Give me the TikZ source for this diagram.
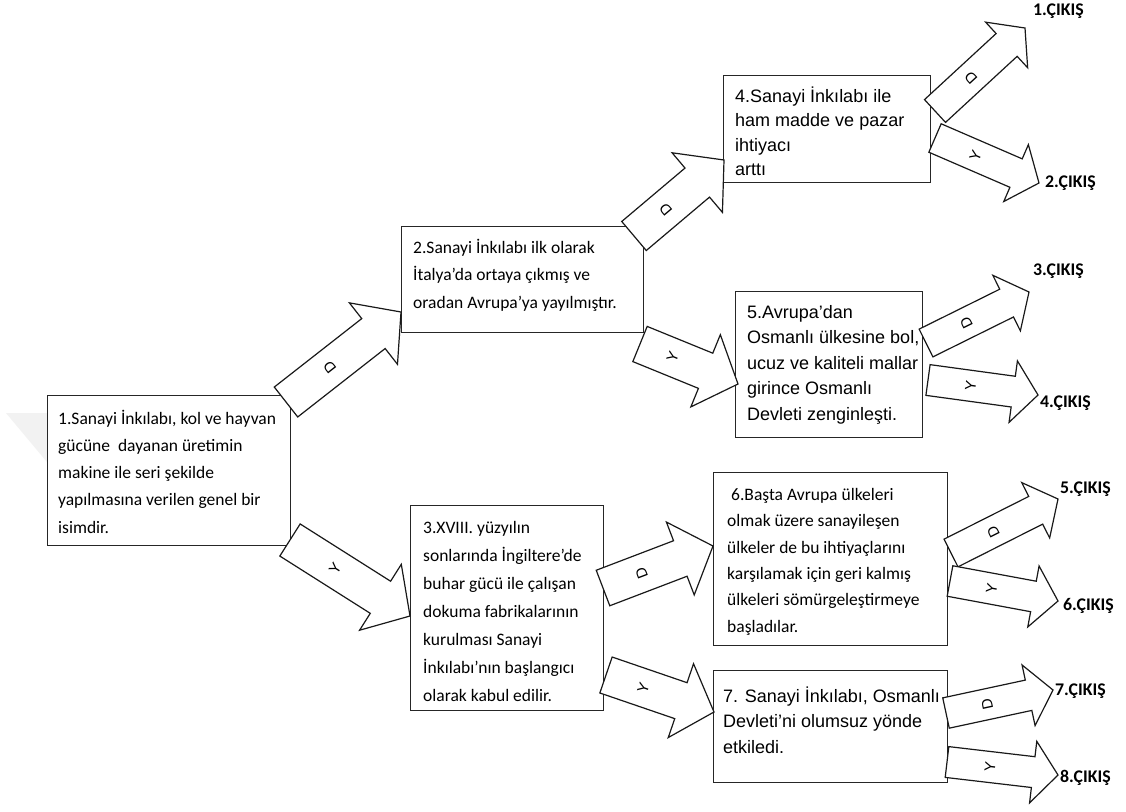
\documentclass[tikz,border=0pt]{standalone}
\usepackage{fontspec}
\setmainfont{Carlito}
\newfontfamily\calf{Carlito}
\newfontfamily\arialf{Liberation Sans}
\usetikzlibrary{calc}

\tikzset{
  frame/.style={draw=black!85, line width=0.9pt, fill=white, inner sep=0pt, anchor=north west},
  bodytext/.style={inner sep=0pt, anchor=north west, align=left, text=black},
  calibri/.style={bodytext, font=\calf\fontsize{17.5}{27.2}\selectfont},
  arial/.style={bodytext, font=\arialf\fontsize{18}{25.5}\selectfont},
  exitlabel/.style={inner sep=0pt, anchor=base west, font=\calf\bfseries\fontsize{17.8}{20}\selectfont},
  blockshape/.style={draw=black!90, line width=1.2pt, fill=white, line join=miter},
  arrowtag/.style={font=\arialf\fontsize{15}{15}\selectfont, inner sep=0pt},
}

% block arrow: tail centre, tip, half shaft width, half head width, head length, tag
\newcommand\blockarrow[6]{%
  \coordinate (#2-base) at ($(#2)!#5!(#1)$);
  \draw[blockshape] ($(#1)!#3!90:(#2)$) -- ($(#2-base)!#3!90:(#2)$)
    -- ($(#2-base)!#4!90:(#2)$) -- (#2) -- ($(#2-base)!#4!-90:(#2)$)
    -- ($(#2-base)!#3!-90:(#2)$) -- ($(#1)!#3!-90:(#2)$) -- cycle;
  \path (#1) -- (#2-base) node[arrowtag, midway, sloped, rotate=90] (#2-tag) {#6};
}
\newcommand\bigarrow[3]{\blockarrow{#1}{#2}{19pt}{39pt}{35pt}{#3}}
\newcommand\exitarrow[3]{\blockarrow{#1}{#2}{15.5pt}{31pt}{25pt}{#3}}

\begin{document}
\begin{tikzpicture}[x=1pt, y=-1pt]
\useasboundingbox (0,0) rectangle (1126,811);
\fill[white] (0,0) rectangle (1126,811);

% faint mark at the left margin
\fill[gray!10] (6,413) -- (47,413) -- (47,462) -- cycle;

% boxes
\node[frame, minimum width=243pt, minimum height=150pt] (b1) at (47,395) {};
\node[frame, minimum width=242pt, minimum height=106pt] (b2) at (401,226) {};
\node[frame, minimum width=193pt, minimum height=205pt] (b3) at (410,505) {};
\node[frame, minimum width=207pt, minimum height=107pt] (b4) at (723,75) {};
\node[frame, minimum width=187pt, minimum height=146pt] (b5) at (735,291) {};
\node[frame, minimum width=234pt, minimum height=173pt] (b6) at (713,472) {};
\node[frame, minimum width=234pt, minimum height=112pt] (b7) at (713,670) {};

% box texts
\node[calibri] (t1) at (58,408) {\rule{0pt}{16pt}1.Sanayi İnkılabı, kol ve hayvan\\
  gücüne\ \ dayanan üretimin\\ makine ile seri şekilde\\
  yapılmasına verilen genel bir\\ isimdir.};
\node[calibri] (t2) at (413,237.5) {\rule{0pt}{16pt}2.Sanayi İnkılabı ilk olarak\\
  İtalya’da ortaya çıkmış ve\\ oradan Avrupa’ya yayılmıştır.};
\node[calibri, font=\calf\fontsize{17.5}{28}\selectfont] (t3) at (423,517) {\rule{0pt}{16pt}3.XVIII. yüzyılın\\
  sonlarında İngiltere’de\\ buhar gücü ile çalışan\\ dokuma fabrikalarının\\
  kurulması Sanayi\\ İnkılabı’nın başlangıcı\\ olarak kabul edilir.};
\node[arial, font=\arialf\fontsize{18}{24.5}\selectfont] (t4) at (735,86) {\rule{0pt}{16pt}4.Sanayi İnkılabı ile\\
  ham madde ve pazar\\ ihtiyacı\\ arttı};
\node[arial] (t5) at (747,302) {\rule{0pt}{16pt}5.Avrupa’dan\\
  Osmanlı ülkesine bol,\\ ucuz ve kaliteli mallar\\ girince Osmanlı\\
  Devleti zenginleşti.};
\node[calibri, font=\calf\fontsize{17.5}{26.4}\selectfont] (t6) at (727,484) {\rule{0pt}{16pt}\hspace{4pt}6.Başta Avrupa ülkeleri\\
  olmak üzere sanayileşen\\ ülkeler de bu ihtiyaçlarını\\
  karşılamak için geri kalmış\\ ülkeleri sömürgeleştirmeye\\ başladılar.};
\node[arial] (t7) at (723,686) {\rule{0pt}{16pt}7. Sanayi İnkılabı, Osmanlı\\
  Devleti’ni olumsuz yönde\\ etkiledi.};

% arrow ends
\coordinate (a1t) at (286,402);   \coordinate (a1p) at (401,312);
\coordinate (a2t) at (290,540);   \coordinate (a2p) at (410,616);
\coordinate (a3t) at (634,236);   \coordinate (a3p) at (724,160);
\coordinate (a4t) at (640,344);   \coordinate (a4p) at (738,384);
\coordinate (a5t) at (603,588);   \coordinate (a5p) at (713,546);
\coordinate (a6t) at (606,675);   \coordinate (a6p) at (714,712);
\coordinate (e1t) at (935,111);   \coordinate (e1p) at (1025,28);
\coordinate (e2t) at (935,138);   \coordinate (e2p) at (1039,183);
\coordinate (e3t) at (926,343);   \coordinate (e3p) at (1029,292);
\coordinate (e4t) at (928,380);   \coordinate (e4p) at (1038,395);
\coordinate (e5t) at (951,553);   \coordinate (e5p) at (1058,499);
\coordinate (e6t) at (950,581);   \coordinate (e6p) at (1058,601);
\coordinate (e7t) at (946,713);   \coordinate (e7p) at (1053,690);
\coordinate (e8t) at (947,762);   \coordinate (e8p) at (1058,775);

% arrows between boxes
\bigarrow{a1t}{a1p}{D}
\bigarrow{a2t}{a2p}{Y}
\bigarrow{a3t}{a3p}{D}
\bigarrow{a4t}{a4p}{Y}
\bigarrow{a5t}{a5p}{D}
\bigarrow{a6t}{a6p}{Y}

% exit arrows
\exitarrow{e1t}{e1p}{D}
\exitarrow{e2t}{e2p}{Y}
\exitarrow{e3t}{e3p}{D}
\exitarrow{e4t}{e4p}{Y}
\exitarrow{e5t}{e5p}{D}
\exitarrow{e6t}{e6p}{Y}
\exitarrow{e7t}{e7p}{D}
\exitarrow{e8t}{e8p}{Y}

% exits
\node[exitlabel] (x1) at (1033,15.5) {1.ÇIKIŞ};
\node[exitlabel] (x2) at (1045,187.5) {2.ÇIKIŞ};
\node[exitlabel] (x3) at (1033,275.5) {3.ÇIKIŞ};
\node[exitlabel] (x4) at (1040,407.5) {4.ÇIKIŞ};
\node[exitlabel] (x5) at (1060,493.5) {5.ÇIKIŞ};
\node[exitlabel] (x6) at (1063,610.5) {6.ÇIKIŞ};
\node[exitlabel] (x7) at (1055,695.5) {7.ÇIKIŞ};
\node[exitlabel] (x8) at (1060,782.5) {8.ÇIKIŞ};
\end{tikzpicture}
\end{document}
